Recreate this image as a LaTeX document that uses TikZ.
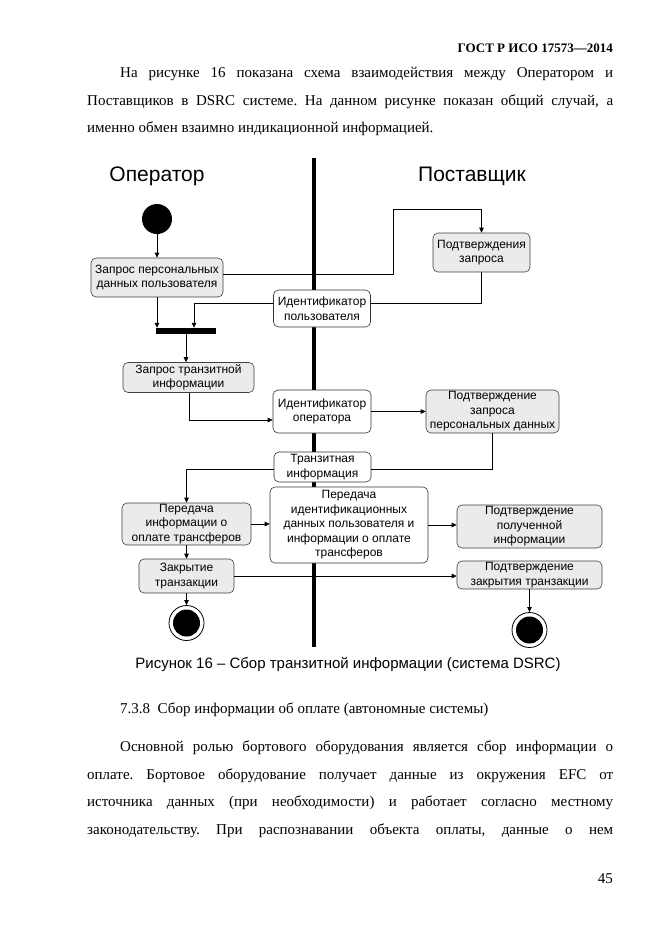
\documentclass[tikz,border=0pt]{standalone}
\usepackage{fontspec}
\setmainfont{Liberation Serif}
\setsansfont{Liberation Sans}
\usetikzlibrary{arrows.meta}
\frenchspacing
\begin{document}
\begin{tikzpicture}[x=1pt,y=-1pt,
  body/.style={anchor=base west, inner sep=0pt, font=\fontsize{15}{17}\selectfont},
  act/.style={draw=black!75, fill=black!8, rounded corners=5pt, align=center, inner sep=1pt, line width=0.6pt,
    font=\sffamily\fontsize{12}{14.5}\selectfont},
  obj/.style={act, fill=white, draw=black!80},
  arr/.style={-{Triangle[length=5pt,width=4.5pt]}, line width=0.8pt},
  ln/.style={line width=0.8pt},
  endst/.style={circle, draw, line width=0.8pt, fill=white, minimum size=35pt, inner sep=0pt},
  lane/.style={anchor=center, inner sep=0pt, font=\sffamily\fontsize{21}{24}\selectfont}
]
\useasboundingbox[fill=white] (0,0) rectangle (661,935);

% page text
\node[anchor=base east, inner sep=0pt, font=\bfseries\fontsize{13}{15}\selectfont] (hdr) at (613,52) {ГОСТ Р ИСО 17573—2014};
\node[body] (t1) at (120,77) {\makebox[493pt][s]{На рисунке 16 показана схема взаимодействия между Оператором и}};
\node[body] (t2) at (87,105) {\makebox[526pt][s]{Поставщиков в DSRC системе. На данном рисунке показан общий случай, а}};
\node[body] (t3) at (87,132) {именно обмен взаимно индикационной информацией.};

% lanes
\node[lane] (op) at (157,176) {Оператор};
\node[lane] (sup) at (472,176) {Поставщик};
\coordinate (laneTop) at (314,158);
\coordinate (laneBot) at (314,647);
\draw[line width=4pt] (laneTop) -- (laneBot);

% nodes
\node[circle, fill=black, minimum size=30pt, inner sep=0pt] (start) at (157,219) {};
\node[act, minimum width=132pt, minimum height=39pt] (zpd) at (157,277.5) {Запрос персональных\\данных пользователя};
\node[act, minimum width=97pt, minimum height=39pt] (pz) at (481.5,252.5) {Подтверждения\\запроса};
\node[obj, minimum width=97pt, minimum height=37pt] (idu) at (322,308.5) {Идентификатор\\пользователя};
\node[fill=black, minimum width=60pt, minimum height=6pt, inner sep=0pt] (bar) at (186,331) {};
\node[act, minimum width=131pt, minimum height=30pt] (zti) at (188.5,377.5) {Запрос транзитной\\информации};
\node[obj, minimum width=98pt, minimum height=43pt] (ido) at (322,411.5) {Идентификатор\\оператора};
\node[act, minimum width=133pt, minimum height=43pt, inner sep=0pt] (pzpd) at (492.5,411.5) {Подтверждение\\запроса\\персональных данных};
\node[obj, minimum width=97pt, minimum height=30pt] (ti) at (322.5,467) {Транзитная\\информация};
\node[act, minimum width=129pt, minimum height=42pt, inner sep=0pt] (pit) at (186.5,524) {Передача\\информации о\\оплате трансферов};
\node[obj, minimum width=158pt, minimum height=76pt, inner sep=0pt] (pid) at (349,525) {Передача\\идентификационных\\данных пользователя и\\информации о оплате\\трансферов};
\node[act, minimum width=145pt, minimum height=43pt, inner sep=0pt] (ppi) at (529.5,526.5) {Подтверждение\\полученной\\информации};
\node[act, minimum width=95pt, minimum height=34pt] (zt) at (186.5,576) {Закрытие\\транзакции};
\node[act, minimum width=145pt, minimum height=28pt, inner sep=0pt] (pzt) at (529.5,575) {Подтверждение\\закрытия транзакции};
\node[endst] (end1) at (186.5,623) {};
\fill (end1.center) circle (13.5pt);
\node[endst] (end2) at (529.5,630) {};
\fill (end2.center) circle (13.5pt);

% connectors
\draw[arr] (start) -- (zpd);
\draw[arr] ([yshift=3.5pt]zpd.east) -| (393,209) -| (pz.north);
\draw[ln] (pz.south) |- ([yshift=5.5pt]idu.east);
\draw[arr] ([yshift=5.5pt]idu.west) -| ([xshift=8pt]bar.north);
\draw[arr] (zpd.south) -- (zpd.south |- bar.north);
\draw[arr] (bar.south) -- (bar.south |- zti.north);
\draw[arr] ([xshift=0.5pt]zti.south) |- ([yshift=-8.5pt]ido.west);
\draw[arr] (ido.east) -- (pzpd.west);
\draw[ln] (pzpd.south) |- ([yshift=-2pt]ti.east);
\draw[arr] ([yshift=-2pt]ti.west) -| (pit.north);
\draw[arr] (pit.east) -- (pid.west |- pit.east);
\draw[arr] (pid.east) -- (ppi.west |- pid.east);
\draw[arr] (pit.south) -- (zt.north);
\draw[arr] (zt.east) -- (pzt.west |- zt.east);
\draw[arr] (zt.south) -- (end1.north);
\draw[arr] (pzt.south) -- (end2.north);

% caption and following text
\node[anchor=base, inner sep=0pt, font=\sffamily\fontsize{15}{17}\selectfont] (cap) at (348,668) {Рисунок 16 – Сбор транзитной информации (система DSRC)};
\node[body] (sec) at (120,713) {7.3.8\ \ Сбор информации об оплате (автономные системы)};
\node[body] (u1) at (120,751) {\makebox[493pt][s]{Основной ролью бортового оборудования является сбор информации о}};
\node[body] (u2) at (87,779) {\makebox[526pt][s]{оплате. Бортовое оборудование получает данные из окружения EFC от}};
\node[body] (u3) at (87,806) {\makebox[526pt][s]{источника данных (при необходимости) и работает согласно местному}};
\node[body] (u4) at (87,834) {\makebox[526pt][s]{законодательству. При распознавании объекта оплаты, данные о нем}};
\node[anchor=base east, inner sep=0pt, font=\fontsize{15}{17}\selectfont] (pg) at (613,883) {45};
\end{tikzpicture}
\end{document}
